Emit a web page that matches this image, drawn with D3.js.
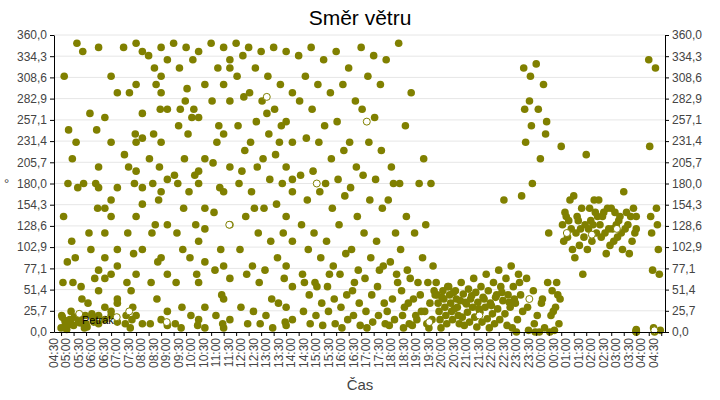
<!DOCTYPE html>
<html>
<head>
<script src="https://d3js.org/d3.v7.min.js"></script>
<style>body{margin:0;background:#fff}text{font-family:"Liberation Sans",Arial,sans-serif}</style>
</head>
<body>
<svg width="720" height="400" id="mainSvg"></svg>
<script>
// wind direction per half-hour slot, slot 0 = 04:30
const slots = [
 [5,10,15,20,8,12,18,3,25,60,85,110,140,180,210,310,245,60,14,9],
 [8,15,20,12,5,175,180,350,340,230,40,90,55,18,11],
 [10,18,6,12,35,65,120,180,265,245,100,150,22],
 [345,260,175,120,75,90,50,30,20,15,10,65,200,150],
 [310,290,230,175,140,100,70,40,25,12,20,35,160,80],
 [345,290,240,200,180,120,95,60,30,20,15,10,50,215,5],
 [350,340,300,235,195,175,140,100,70,10,20,155,230,265],
 [335,320,270,240,200,180,160,120,85,60,40,10,300,210,130],
 [345,330,290,270,230,185,170,130,90,70,15,8,310,25],
 [350,320,280,250,210,180,150,120,100,60,30,10,5,190,270],
 [345,330,295,270,240,190,170,130,90,70,20,8,260],
 [340,300,260,210,180,150,110,85,60,30,15,5,195,125],
 [350,320,280,250,205,175,145,100,75,45,20,10,230],
 [345,330,300,280,240,200,170,130,80,65,40,15,5,320],
 [350,335,310,285,250,220,180,140,100,70,30,10,195],
 [345,320,290,255,230,200,170,120,80,60,25,10,150],
 [340,310,280,240,210,185,150,110,75,40,20,5,265],
 [345,300,270,250,215,180,155,120,90,65,35,12,230],
 [340,290,255,230,200,170,140,110,80,55,30,15,8,185],
 [335,310,280,235,190,160,130,100,70,45,25,10,60],
 [345,300,270,230,195,170,120,90,60,35,20,8,55],
 [330,290,250,210,180,150,110,80,55,40,25,10,70],
 [340,300,255,220,185,165,130,95,70,45,30,15,5],
 [320,280,230,200,175,140,100,75,50,35,20,8,60],
 [345,310,270,230,190,160,120,90,65,45,25,12,5],
 [335,300,260,220,185,150,110,80,55,35,20,10,75],
 [330,180,160,120,85,60,40,25,15,8,70,200],
 [350,250,180,140,100,75,50,35,20,10,5,65,30],
 [290,180,120,90,60,40,25,15,8,45,20],
 [210,180,130,80,60,45,35,25,15,10,50,5],
 [60,50,45,40,35,30,25,20,15,10,5,55,42],
 [55,50,45,40,35,30,25,20,15,10,48,38,28],
 [60,52,46,40,36,30,24,18,12,8,44,34],
 [65,55,48,42,36,30,24,18,12,6,40,28],
 [70,60,50,42,35,28,22,16,10,5,45,32],
 [75,65,55,45,38,30,22,15,8,48,36,160],
 [80,70,55,45,35,25,15,5,60,40,165,0],
 [320,310,270,250,230,180,65,50,30,10,2,0,280],
 [325,300,270,240,210,60,40,20,5,0,255,35],
 [120,60,50,40,30,20,10,2,0,45,25],
 [225,160,140,130,125,115,110,100,135,145],
 [165,150,140,130,125,120,115,105,90,70,135],
 [215,160,150,140,130,125,120,110,100,145,135],
 [160,150,145,130,125,120,115,105,95,140],
 [150,140,130,125,120,115,110,100,135,145],
 [170,150,140,130,125,120,110,95,145],
 [2,0,1,3,140,125,0],
 [330,320,225,150,140,130,120,100,75,70,5,2,0]
];
// hollow markers [slot, degrees]
const hollow = [[1,22],[4,18],[5,25],[8,12],[13,130],[16,285],[20,180],[24,255],[29,12],[33,20],[37,40],[40,120],[42,118],[44,125],[47,2]];
const yTicks = [0,25.7,51.4,77.1,102.9,128.6,154.3,180,205.7,231.4,257.1,282.9,308.6,334.3,360];

const svg = d3.select('#mainSvg');
const m = {left: 54, right: 665, top: 35, bottom: 332};
const t0 = new Date(2020, 0, 1, 4, 30);
const slotTime = (s, f) => new Date(t0.getTime() + (s + f) * 30 * 60000);
const x = d3.scaleTime().domain([new Date(2020,0,1,4,13), new Date(2020,0,2,4,39)]).range([m.left, m.right]);
const y = d3.scaleLinear().domain([0, 360]).range([m.bottom, m.top]);
const fmt = d => d.toFixed(1).replace('.', ',');

svg.append('g').selectAll('line').data(yTicks.slice(1)).join('line')
  .attr('x1', m.left).attr('x2', m.right).attr('y1', d => y(d)).attr('y2', d => y(d))
  .attr('stroke', '#e6e6e6');

const pts = [];
slots.forEach((vals, s) => vals.forEach((v, j) => pts.push({t: slotTime(s, ((j * 7) % vals.length) / vals.length), v})));
svg.append('g').selectAll('circle').data(pts).join('circle')
  .attr('cx', d => x(d.t)).attr('cy', d => y(d.v)).attr('r', 3.8).attr('fill', '#808000');
svg.append('g').selectAll('circle').data(hollow).join('circle')
  .attr('cx', d => x(slotTime(d[0], 0.45))).attr('cy', d => y(d[1])).attr('r', 3.5)
  .attr('fill', '#fff').attr('stroke', '#808000');

svg.append('text').attr('x', 82).attr('y', 324).attr('font-size', 11).text('Petrák');

const ticks = d3.range(49).map(i => slotTime(i, 0));
const xa = svg.append('g').attr('transform', `translate(0,${m.bottom})`)
  .call(d3.axisBottom(x).tickValues(ticks).tickFormat(d3.timeFormat('%H:%M')).tickSize(4).tickSizeOuter(0));
xa.selectAll('text').attr('transform', 'rotate(-90)').attr('text-anchor', 'end')
  .attr('x', -6).attr('y', -4).attr('dy', 0);
const yl = svg.append('g').attr('transform', `translate(${m.left},0)`)
  .call(d3.axisLeft(y).tickValues(yTicks).tickFormat(fmt).tickSize(4).tickSizeOuter(0));
const yr = svg.append('g').attr('transform', `translate(${m.right},0)`)
  .call(d3.axisRight(y).tickValues(yTicks).tickFormat(fmt).tickSize(4).tickSizeOuter(0));
[xa, yl, yr].forEach(a => { a.selectAll('path,line').attr('stroke', '#000'); a.selectAll('text').attr('font-size', 12).attr('fill', '#444').style('font-family', 'Liberation Sans'); });

svg.append('text').attr('x', 360).attr('y', 25).attr('text-anchor', 'middle').attr('font-size', 21).text('Směr větru');
svg.append('text').attr('x', 360).attr('y', 390).attr('text-anchor', 'middle').attr('font-size', 15).attr('fill', '#444').text('Čas');
svg.append('text').attr('x', 4).attr('y', 188).attr('font-size', 13).attr('fill', '#444').text('°');
</script>
</body>
</html>
